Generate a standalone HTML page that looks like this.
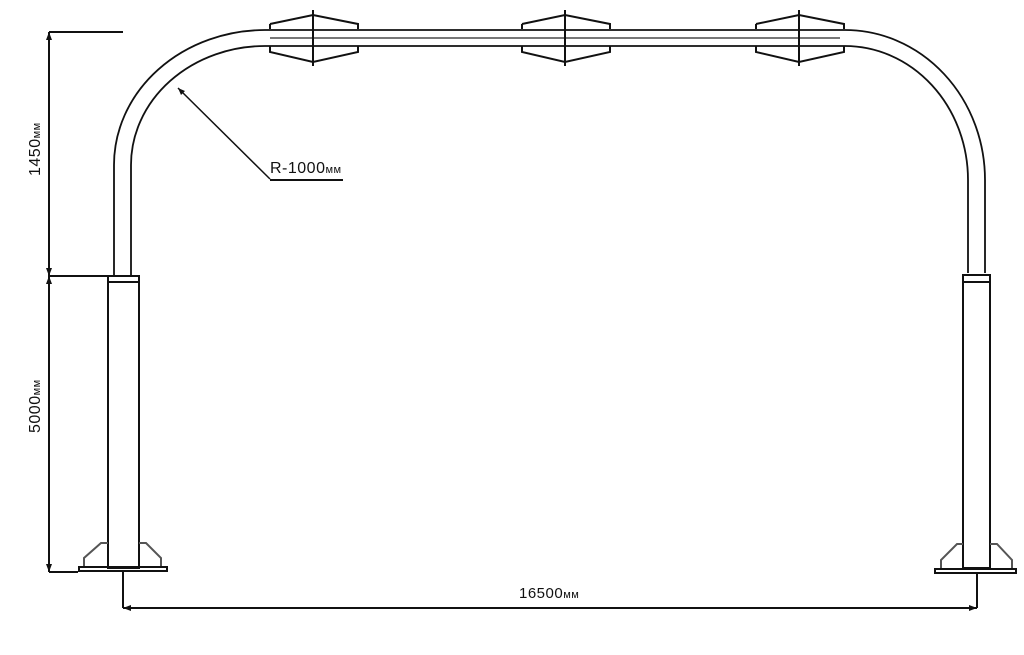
<!DOCTYPE html>
<html><head><meta charset="utf-8"><style>
html,body{margin:0;padding:0;background:#fff;width:1024px;height:655px;overflow:hidden}
svg{display:block}
text{font-family:"Liberation Sans",sans-serif;fill:#111}
</style></head><body>
<svg width="1024" height="655" viewBox="0 0 1024 655" xmlns="http://www.w3.org/2000/svg">
<g stroke="#111" fill="none" stroke-width="2">
<line x1="49" y1="32" x2="123" y2="32"/>
<line x1="49" y1="32" x2="49" y2="572"/>
<line x1="49" y1="276" x2="139" y2="276"/>
<line x1="49" y1="572" x2="78" y2="572"/>
<line x1="123" y1="571" x2="123" y2="608"/>
<line x1="123" y1="608" x2="977" y2="608"/>
<line x1="977" y1="573" x2="977" y2="608"/>
<path d="M114 275 L114 165 A151 135 0 0 1 265 30 L845 30 A140 150 0 0 1 985 180 L985 273" stroke-width="1.8"/>
<path d="M131 275 L131 165 A134 119 0 0 1 265 46 L845 46 A123 134 0 0 1 968 180 L968 273" stroke-width="1.8"/>
<line x1="270" y1="38" x2="840" y2="38" stroke="#777" stroke-width="2"/>
<rect x="108" y="276" width="31" height="292"/>
<line x1="108" y1="282" x2="139" y2="282"/>
<rect x="963" y="275" width="27" height="293"/>
<line x1="963" y1="282" x2="990" y2="282"/>
<rect x="79" y="567" width="88" height="4"/>
<path d="M84 566 L84 558 L101 543 L108 543 M139 543 L146 543 L161 558 L161 566" stroke="#555"/>
<rect x="935" y="569" width="81" height="4"/>
<path d="M941 568 L941 560 L957 544 L963 544 M990 544 L997 544 L1012 560 L1012 568" stroke="#555"/>
<g id="c">
<path d="M270 24 L313 15 L358 24 L358 29 M358 46 L358 52 L313 62 L270 52 L270 46 M270 29 L270 24"/>
<line x1="313" y1="10" x2="313" y2="66"/>
</g>
<use href="#c" transform="translate(252,0)"/>
<use href="#c" transform="translate(486,0)"/>
<line x1="178" y1="88" x2="270" y2="179" stroke-width="1.5"/>
<line x1="270" y1="180" x2="343" y2="180"/>
</g>
<g fill="#111">
<path d="M49 32 l-3 8 h6z M49 276 l-3 -8 h6z M49 276 l-3 8 h6z M49 572 l-3 -8 h6z M123 608 l8 -3 v6z M977 608 l-8 -3 v6z M178 88 l3 7 l4 -4z"/>
</g>
<text x="270" y="173" font-size="16" letter-spacing="0.5">R-1000<tspan font-size="11">мм</tspan></text>
<text x="519" y="598" font-size="15" letter-spacing="0.5">16500<tspan font-size="11">мм</tspan></text>
<text transform="translate(40,176) rotate(-90)" font-size="16" letter-spacing="0.5">1450<tspan font-size="11">мм</tspan></text>
<text transform="translate(40,433) rotate(-90)" font-size="16" letter-spacing="0.5">5000<tspan font-size="11">мм</tspan></text>
</svg>
</body></html>
